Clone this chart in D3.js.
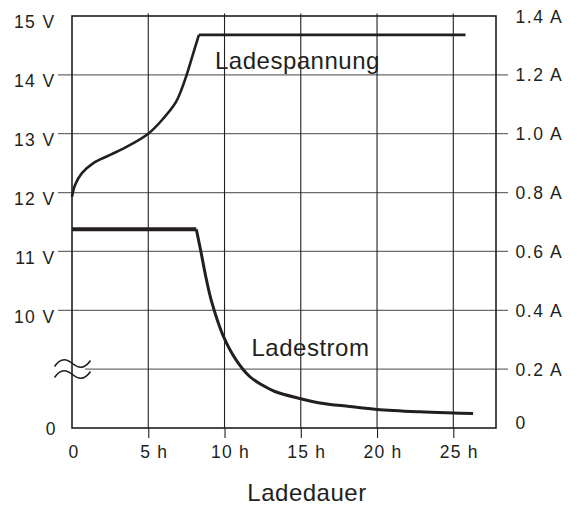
<!DOCTYPE html>
<html>
<head>
<meta charset="utf-8">
<script src="https://cdn.jsdelivr.net/npm/d3@7"></script>
<style>
  body { margin: 0; background: #fff; }
  text { font-family: "Liberation Sans", Arial, sans-serif; fill: #231f20; }
</style>
</head>
<body>
<div id="chart"></div>
<script>
// chart data
var hourTicks = [0, 5, 10, 15, 20, 25];
var ampTicks = [0, 0.2, 0.4, 0.6, 0.8, 1.0, 1.2, 1.4];
var voltTicks = [10, 11, 12, 13, 14, 15];

// Ladespannung (V) over hours
var voltHours  = [0, 0.2, 0.65, 1.4, 2.5, 3.6, 5, 5.96, 6.82, 7.4, 7.86, 8.32, 25.8];
var voltValues = [11.93, 12.13, 12.33, 12.5, 12.64, 12.78, 13.0, 13.25, 13.54, 13.91, 14.29, 14.68, 14.68];

// Ladestrom (A) over hours
var currHours  = [0, 8.15, 8.45, 8.75, 9.15, 9.9, 10.8, 11.65, 12.5, 13.3, 14.94, 16.25, 18.2, 20, 22.8, 25, 26.3];
var currValues = [0.675, 0.675, 0.6, 0.52, 0.43, 0.315, 0.228, 0.175, 0.145, 0.124, 0.1, 0.085, 0.073, 0.063, 0.055, 0.051, 0.049];

var svgWidth = 577;
var svgHeight = 506;
var ink = "#231f20";

var svg = d3.select("#chart")
  .append("svg")
  .attr("width", svgWidth)
  .attr("height", svgHeight);

// scales: one hour scale, one current scale; volts map onto current grid
var x = d3.scaleLinear().domain([0, 27.8]).range([72, 496]);
var yA = d3.scaleLinear().domain([0, 1.4]).range([428, 16]);
var voltToAmp = function(v) { return (v - 8) / 5; };

var plotLeft = x(0), plotRight = x(27.8), plotTop = yA(1.4), plotBottom = yA(0);

// horizontal grid lines (grey), with ticks sticking out both sides
svg.append("g").selectAll("line")
  .data(ampTicks.filter(function(d) { return d > 0 && d < 1.4; }))
  .enter().append("line")
  .attr("x1", function(d) { return Math.abs(d - 0.2) < 1e-9 ? 85 : 58; })
  .attr("x2", 508)
  .attr("y1", function(d) { return yA(d); })
  .attr("y2", function(d) { return yA(d); })
  .attr("stroke", "#6b6b6b")
  .attr("stroke-width", 1.3);

// vertical grid lines
svg.append("g").selectAll("line")
  .data(hourTicks.filter(function(d) { return d > 0; }))
  .enter().append("line")
  .attr("x1", function(d) { return x(d); })
  .attr("x2", function(d) { return x(d); })
  .attr("y1", plotTop - 2.5)
  .attr("y2", plotBottom)
  .attr("stroke", ink)
  .attr("stroke-width", 1.1);

// bottom axis
var xAxis = svg.append("g")
  .attr("transform", "translate(0," + plotBottom + ")")
  .call(d3.axisBottom(x)
    .tickValues(hourTicks)
    .tickSize(10)
    .tickFormat(function(d) { return d === 0 ? "0" : d + " h"; }));
xAxis.select(".domain").remove();
xAxis.selectAll("line").attr("stroke", ink).attr("stroke-width", 1.1)
  .attr("opacity", function(d) { return d === 0 ? 0 : 1; });
xAxis.selectAll("text")
  .attr("y", 30)
  .attr("dy", 0)
  .attr("dx", function(d) { return d === 0 ? 1.5 : 5.5; })
  .attr("font-size", 17.5)
  .attr("letter-spacing", 1.2)
  .style("font-family", "'Liberation Sans', Arial, sans-serif")
  .attr("fill", ink);

// right axis (A)
var rAxis = svg.append("g")
  .attr("transform", "translate(" + plotRight + ",0)")
  .call(d3.axisRight(yA)
    .tickValues(ampTicks)
    .tickSize(0)
    .tickPadding(19.5)
    .tickFormat(function(d) { return d === 0 ? "0" : d3.format(".1f")(d) + " A"; }));
rAxis.select(".domain").remove();
rAxis.selectAll("text")
  .attr("dy", function(d) { return d === 0 ? "0.05em" : "0.35em"; })
  .attr("font-size", 17.5)
  .attr("letter-spacing", 1.6)
  .style("font-family", "'Liberation Sans', Arial, sans-serif")
  .attr("fill", ink);

// left axis (V)
var leftVals = [0].concat(voltTicks.map(voltToAmp));
var lAxis = svg.append("g")
  .attr("transform", "translate(" + plotLeft + ",0)")
  .call(d3.axisLeft(yA)
    .tickValues(leftVals)
    .tickSize(0)
    .tickPadding(16.5)
    .tickFormat(function(d) { return d === 0 ? "0" : Math.round(8 + 5 * d) + " V"; }));
lAxis.select(".domain").remove();
lAxis.selectAll("text")
  .attr("dy", function(d) { return d === 0 ? "0.35em" : "0.68em"; })
  .attr("dx", function(d) { return d === 0 ? 1.5 : 0; })
  .attr("font-size", 17.5)
  .attr("letter-spacing", 1.4)
  .style("font-family", "'Liberation Sans', Arial, sans-serif")
  .attr("fill", ink);

// frame
svg.append("rect")
  .attr("x", plotLeft)
  .attr("y", plotTop)
  .attr("width", plotRight - plotLeft)
  .attr("height", plotBottom - plotTop)
  .attr("fill", "none")
  .attr("stroke", ink)
  .attr("stroke-width", 1.6);

// axis break mark on the left edge
var tilde = "M-18,3 C-11,-7 -5,-4 0,0 C5,4 11,7 18,-3";
[363.5, 374.5].forEach(function(yy) {
  svg.append("path")
    .attr("d", tilde)
    .attr("transform", "translate(" + (plotLeft + 0.5) + "," + yy + ")")
    .attr("fill", "none")
    .attr("stroke", ink)
    .attr("stroke-width", 1.6);
});

// Ladespannung curve: rising part smooth, then flat part
var voltPts = voltHours.map(function(h, i) { return [h, voltValues[i]]; });
var vCorner = voltValues.indexOf(d3.max(voltValues));
var vLine = d3.line()
  .x(function(d) { return x(d[0]); })
  .y(function(d) { return yA(voltToAmp(d[1])); });

svg.append("path")
  .attr("d", vLine.curve(d3.curveCatmullRom.alpha(0.5))(voltPts.slice(0, vCorner + 1)))
  .attr("fill", "none")
  .attr("stroke", ink)
  .attr("stroke-width", 2.6);
svg.append("path")
  .attr("d", vLine.curve(d3.curveLinear)(voltPts.slice(vCorner)))
  .attr("fill", "none")
  .attr("stroke", ink)
  .attr("stroke-width", 2.6);

// Ladestrom curve: flat part, then smooth decay
var currPts = currHours.map(function(h, i) { return [h, currValues[i]]; });
var cLine = d3.line()
  .x(function(d) { return x(d[0]); })
  .y(function(d) { return yA(d[1]); });

svg.append("path")
  .attr("d", cLine.curve(d3.curveLinear)(currPts.slice(0, 2)))
  .attr("fill", "none")
  .attr("stroke", ink)
  .attr("stroke-width", 4);
svg.append("path")
  .attr("d", cLine.curve(d3.curveCatmullRom.alpha(0.5))(currPts.slice(1)))
  .attr("fill", "none")
  .attr("stroke", ink)
  .attr("stroke-width", 3)
  .attr("stroke-linejoin", "round");

// curve labels
svg.append("text")
  .attr("x", 215)
  .attr("y", 68.5)
  .attr("font-size", 24)
  .attr("letter-spacing", 0.5)
  .text("Ladespannung");

svg.append("text")
  .attr("x", 251.5)
  .attr("y", 356)
  .attr("font-size", 24)
  .attr("letter-spacing", 0.5)
  .text("Ladestrom");

// x axis title
svg.append("text")
  .attr("x", 307)
  .attr("y", 500.5)
  .attr("text-anchor", "middle")
  .attr("font-size", 24)
  .attr("letter-spacing", 0.5)
  .text("Ladedauer");
</script>
</body>
</html>
